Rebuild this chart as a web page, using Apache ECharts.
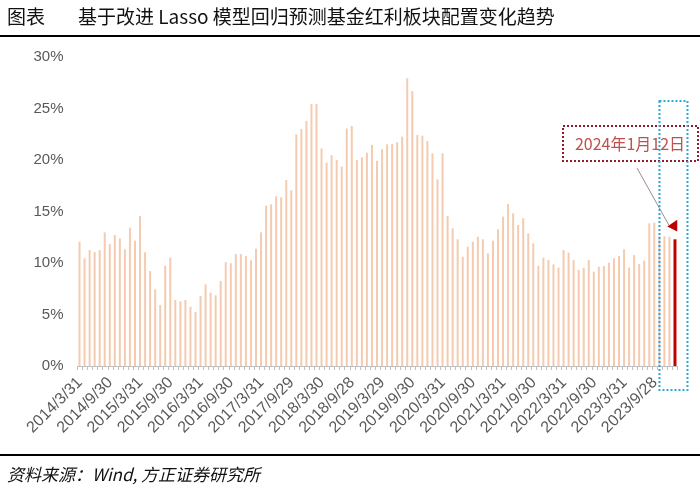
<!DOCTYPE html>
<html><head><meta charset="utf-8">
<script src="https://cdn.jsdelivr.net/npm/echarts@6/dist/echarts.min.js"></script>
<style>html,body{margin:0;padding:0;background:#fff}#c{width:700px;height:491px}</style>
</head><body><div id="c"></div>
<script>
const titleTag = '图表';
const titleText = '基于改进 Lasso 模型回归预测基金红利板块配置变化趋势';
const sourceText = '资料来源：Wind, 方正证券研究所';
const noteText = '2024年1月12日';

const categories = [
 '2014/3/31','2014/4/30','2014/5/30','2014/6/30','2014/7/31','2014/8/29','2014/9/30','2014/10/31','2014/11/28','2014/12/31',
 '2015/1/30','2015/2/27','2015/3/31','2015/4/30','2015/5/29','2015/6/30','2015/7/31','2015/8/31','2015/9/30','2015/10/30','2015/11/30','2015/12/31',
 '2016/1/29','2016/2/29','2016/3/31','2016/4/29','2016/5/31','2016/6/30','2016/7/29','2016/8/31','2016/9/30','2016/10/31','2016/11/30','2016/12/30',
 '2017/1/26','2017/2/28','2017/3/31','2017/4/28','2017/5/31','2017/6/30','2017/7/31','2017/8/31','2017/9/29','2017/10/31','2017/11/30','2017/12/29',
 '2018/1/31','2018/2/28','2018/3/30','2018/4/27','2018/5/31','2018/6/29','2018/7/31','2018/8/31','2018/9/28','2018/10/31','2018/11/30','2018/12/28',
 '2019/1/31','2019/2/28','2019/3/29','2019/4/30','2019/5/31','2019/6/28','2019/7/31','2019/8/30','2019/9/30','2019/10/31','2019/11/29','2019/12/31',
 '2020/1/23','2020/2/28','2020/3/31','2020/4/30','2020/5/29','2020/6/30','2020/7/31','2020/8/31','2020/9/30','2020/10/30','2020/11/30','2020/12/31',
 '2021/1/29','2021/2/26','2021/3/31','2021/4/30','2021/5/31','2021/6/30','2021/7/30','2021/8/31','2021/9/30','2021/10/29','2021/11/30','2021/12/31',
 '2022/1/28','2022/2/28','2022/3/31','2022/4/29','2022/5/31','2022/6/30','2022/7/29','2022/8/31','2022/9/30','2022/10/31','2022/11/30','2022/12/30',
 '2023/1/31','2023/2/28','2023/3/31','2023/4/28','2023/5/31','2023/6/30','2023/7/31','2023/8/31','2023/9/28','2023/10/31','2023/11/30','2023/12/29',
 '2024/1/12'
];

// 红利板块配置比例 (%)
const allocation = [
 12.07,10.45,11.26,11.07,11.26,12.98,11.84,12.72,12.40,11.33,
 13.43,12.17,14.56,11.04,9.22,7.44,5.92,9.74,10.52,6.41,6.28,6.41,
 5.76,5.24,6.80,7.93,7.12,6.86,8.25,10.07,9.97,10.87,10.87,10.68,
 10.26,11.39,12.98,15.56,15.70,16.48,16.38,18.06,17.06,22.49,23.01,23.79,
 25.44,25.44,21.13,19.74,20.49,20.00,19.35,23.07,23.30,20.00,20.26,20.71,
 21.46,19.93,21.04,21.52,21.55,21.72,22.27,27.93,26.70,22.43,22.36,21.84,
 20.65,18.12,20.65,14.56,13.37,12.30,10.61,11.58,12.07,12.55,12.30,10.94,
 12.17,13.27,14.50,15.73,14.82,13.69,14.34,12.88,11.91,9.74,10.52,10.29,
 9.87,9.55,11.26,11.00,10.29,9.32,9.55,10.29,9.16,9.64,9.71,10.03,
 10.45,10.68,11.33,9.55,10.78,9.90,10.23,13.85,13.92,12.60,12.60,12.55,
 12.30
];

const yMax = 30, yStep = 5;
const lastIdx = allocation.length - 1;
const histData = allocation.map((v, i) => i === lastIdx ? null : v);
const latestData = allocation.map((v, i) => i === lastIdx ? v : null);

const chart = echarts.init(document.getElementById('c'), null, {renderer: 'canvas'});
const option = {
  animation: false,
  backgroundColor: '#fff',
  grid: {left: 77.5, right: 22.5, top: 57, bottom: 125, containLabel: false},
  xAxis: {
    type: 'category', data: categories, boundaryGap: true,
    axisLine: {lineStyle: {color: '#BFBFBF', width: 1}},
    axisTick: {show: true, interval: 0, length: 4, lineStyle: {color: '#BFBFBF'}},
    axisLabel: {interval: 5, rotate: 45, color: '#595959', fontSize: 16, margin: 14,
      fontFamily: 'Liberation Sans'}
  },
  yAxis: {
    type: 'value', min: 0, max: yMax, interval: yStep,
    axisLine: {show: false}, axisTick: {show: false}, splitLine: {show: false},
    axisLabel: {formatter: '{value}%', color: '#595959', fontSize: 15, margin: 14,
      fontFamily: 'Liberation Sans'}
  },
  series: [
    {type: 'bar', data: histData, barWidth: 2, barGap: '-100%',
     itemStyle: {color: '#F4CBB0'}},
    {type: 'bar', data: latestData, barWidth: 3, barGap: '-100%',
     itemStyle: {color: '#C00000'}}
  ]
};
chart.setOption(option);

const p = chart.convertToPixel({gridIndex: 0}, [lastIdx, allocation[lastIdx]]);
const px = p[0], py = p[1];
const base = chart.convertToPixel({gridIndex: 0}, [lastIdx, 0])[1];

chart.setOption({
  graphic: [
    {type: 'text', left: 7, top: 7, style: {text: titleTag, fill: '#111', font: '19px "Noto Sans CJK SC"'}},
    {type: 'text', left: 78, top: 7, style: {text: titleText, fill: '#111', font: '19px "Noto Sans CJK SC"'}},
    {type: 'line', shape: {x1: 0, y1: 36, x2: 700, y2: 36}, style: {stroke: '#000', lineWidth: 2}},
    {type: 'line', shape: {x1: 0, y1: 455, x2: 700, y2: 455}, style: {stroke: '#000', lineWidth: 2}},
    {type: 'text', left: 7, top: 466, style: {text: sourceText, fill: '#111', font: 'italic 17px "Noto Sans CJK SC"'}},
    {type: 'rect', z: 100, shape: {x: 563, y: 126, width: 135, height: 35},
      style: {fill: 'none', stroke: '#8E1B2E', lineWidth: 2, lineDash: [2, 2]}},
    {type: 'text', z: 101, x: 630, y: 144, style: {text: noteText, fill: '#C0504D',
      font: '16px "Noto Sans CJK SC"', textAlign: 'center', textVerticalAlign: 'middle'}},
    {type: 'rect', z: 102, shape: {x: px - 15.5, y: 101, width: 28, height: base + 24 - 101},
      style: {fill: 'none', stroke: '#2FA8D6', lineWidth: 2, lineDash: [2, 2]}},
    {type: 'line', z: 100, shape: {x1: 637, y1: 168, x2: px - 6, y2: py - 14},
      style: {stroke: '#A08C8C', lineWidth: 1}},
    {type: 'polygon', z: 101, shape: {points: [[px + 2.3, py - 19.5], [px - 7.7, py - 12.7], [px + 2.3, py - 7.7]]},
      style: {fill: '#C00000'}}
  ]
});
</script>
</body></html>
